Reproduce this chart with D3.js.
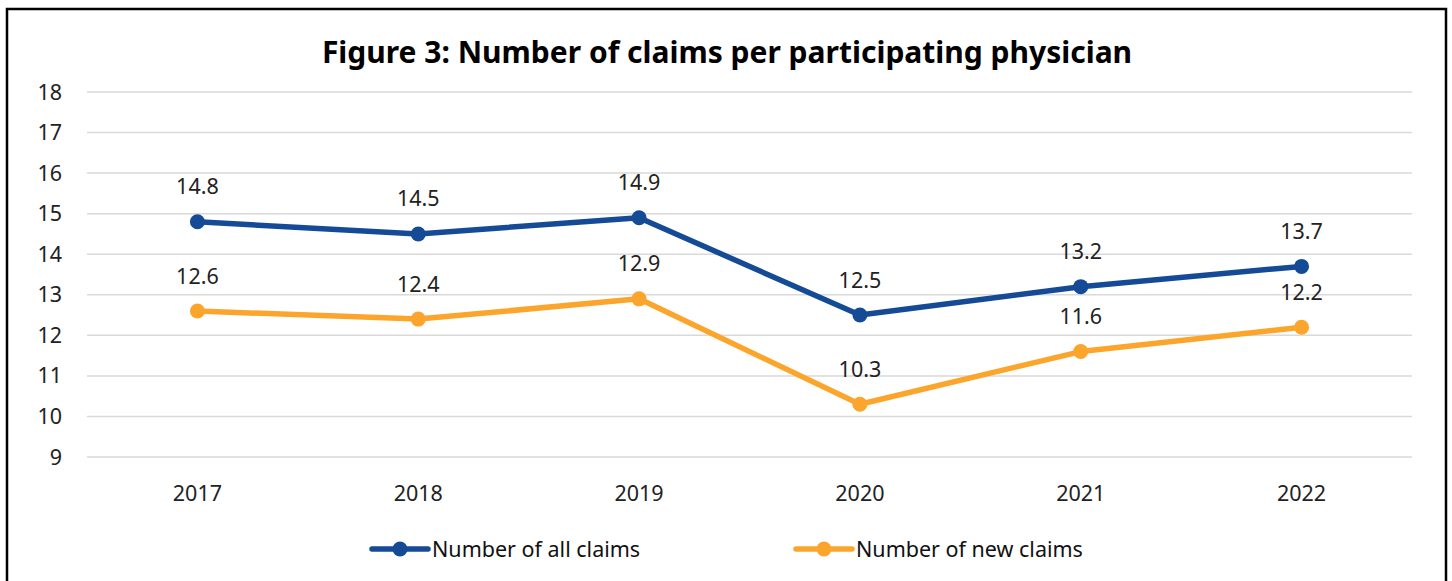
<!DOCTYPE html>
<html>
<head>
<meta charset="utf-8">
<script src="https://cdn.jsdelivr.net/npm/d3@7"></script>
<style>
  body { margin: 0; background: #fff; }
  svg { font-family: 'Noto Sans', 'Open Sans', sans-serif; }
</style>
</head>
<body>
<div id="chart"></div>
<script>
// chart data
const years = ['2017', '2018', '2019', '2020', '2021', '2022']
const allClaims = [14.8, 14.5, 14.9, 12.5, 13.2, 13.7]
const newClaims = [12.6, 12.4, 12.9, 10.3, 11.6, 12.2]
const yTicks = [9, 10, 11, 12, 13, 14, 15, 16, 17, 18]
const seriesNames = ['Number of all claims', 'Number of new claims']

const blue = '#154b96'
const orange = '#fca52c'
const fs = 21.5

const W = 1452, H = 581

const svg = d3.select('#chart').append('svg')
  .attr('width', W).attr('height', H)

// outer frame
svg.append('rect')
  .attr('x', 7).attr('y', 9).attr('width', 1439).attr('height', 600)
  .attr('fill', 'white').attr('stroke', 'black').attr('stroke-width', 2.5)

svg.append('text')
  .attr('x', 727).attr('y', 63)
  .attr('text-anchor', 'middle')
  .attr('font-weight', 'bold').attr('font-size', 30)
  .text('Figure 3: Number of claims per participating physician')

const x = d3.scaleBand().domain(years).range([87, 1412])
const y = d3.scaleLinear().domain([9, 18]).range([457, 92])

// gridlines
svg.append('g').selectAll('line')
  .data(yTicks).enter().append('line')
  .attr('x1', 87).attr('x2', 1412)
  .attr('y1', d => y(d)).attr('y2', d => y(d))
  .attr('stroke', '#d9d9d9').attr('stroke-width', 1.5)

// y labels
svg.append('g').selectAll('text')
  .data(yTicks).enter().append('text')
  .attr('x', 62).attr('y', d => y(d))
  .attr('dy', '.35em')
  .attr('text-anchor', 'end').attr('font-size', fs).attr('fill', '#222')
  .text(d => d)

// x labels
svg.append('g').selectAll('text')
  .data(years).enter().append('text')
  .attr('x', d => x(d) + x.bandwidth() / 2).attr('y', 493)
  .attr('dy', '.35em')
  .attr('text-anchor', 'middle').attr('font-size', fs).attr('fill', '#222')
  .text(d => d)

const cx = d => x(d) + x.bandwidth() / 2

let drawSeries = (vals, color) => {
  const pts = years.map((yr, i) => ({yr: yr, v: vals[i]}))
  const line = d3.line().x(d => cx(d.yr)).y(d => y(d.v))
  svg.append('path').datum(pts)
    .attr('d', line)
    .attr('fill', 'none').attr('stroke', color)
    .attr('stroke-width', 5.5).attr('stroke-linejoin', 'round')
  svg.append('g').selectAll('circle')
    .data(pts).enter().append('circle')
    .attr('cx', d => cx(d.yr)).attr('cy', d => y(d.v))
    .attr('r', 7.5).attr('fill', color)
  svg.append('g').selectAll('text')
    .data(pts).enter().append('text')
    .attr('x', d => cx(d.yr)).attr('y', d => y(d.v) - 35)
    .attr('dy', '.35em')
    .attr('text-anchor', 'middle').attr('font-size', fs).attr('fill', '#222')
    .text(d => d.v.toFixed(1))
}

drawSeries(allClaims, blue)
drawSeries(newClaims, orange)

// legend
const legend = [
  {name: seriesNames[0], color: blue, x: 372},
  {name: seriesNames[1], color: orange, x: 796}
]
const lg = svg.append('g').selectAll('g')
  .data(legend).enter().append('g')
  .attr('transform', d => 'translate(' + d.x + ',549)')
lg.append('line')
  .attr('x1', 0).attr('x2', 56).attr('y1', 0).attr('y2', 0)
  .attr('stroke', d => d.color).attr('stroke-width', 5.5).attr('stroke-linecap', 'round')
lg.append('circle')
  .attr('cx', 28).attr('cy', 0).attr('r', 7.5).attr('fill', d => d.color)
lg.append('text')
  .attr('x', 60).attr('dy', '.35em').attr('font-size', fs).attr('fill', '#111')
  .text(d => d.name)
</script>
</body>
</html>
